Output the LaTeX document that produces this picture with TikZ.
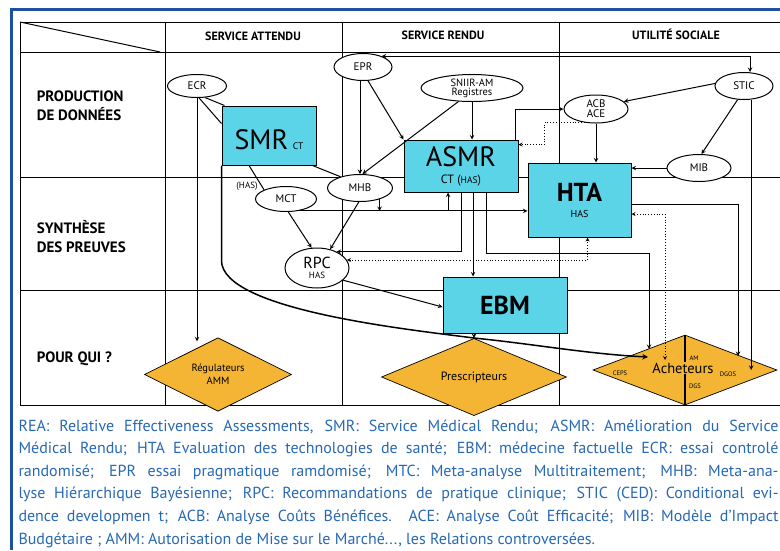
\documentclass[tikz,border=0pt]{standalone}
\usepackage{fontspec}
\setmainfont{PT Sans}
\usepackage{tikz}
\usetikzlibrary{shapes.geometric}
\definecolor{cyanbox}{RGB}{92,212,232}
\definecolor{orangebox}{RGB}{244,180,52}
\definecolor{frameblue}{RGB}{30,80,160}
\definecolor{legendblue}{RGB}{40,105,180}

\begin{document}
\begin{tikzpicture}[x=1pt, y=-1pt, >=stealth, line width=1pt,
  oval/.style={draw, ellipse, fill=white, inner sep=0pt, font=\fontsize{11}{11}\selectfont},
  box/.style={draw, fill=cyanbox, inner sep=0pt},
  losange/.style={draw, diamond, fill=orangebox, inner sep=0pt, line width=0.7pt},
  head/.style={font=\bfseries\fontsize{12}{12}\selectfont},
  rowlab/.style={anchor=west, align=left, font=\bfseries\fontsize{15}{19}\selectfont},
  tiny/.style={font=\fontsize{6.5}{6.5}\selectfont, inner sep=0pt}]

% fond et cadre
\useasboundingbox (0,0) rectangle (780,550);
\fill [white] (0,0) rectangle (780,550);
\draw [frameblue, line width=3pt] (11.5,550) -- (11.5,9.5) -- (780,9.5);

% tableau
\draw (780,22) -- (20,22) -- (20,405) -- (780,405);
\draw (20,52) -- (780,52);
\draw (20,177) -- (780,177);
\draw (20,290) -- (780,290);
\foreach \x in {165,342,559}
  \draw (\x,22) -- (\x,405);
\draw (20,22) -- (160,52);

\node [head] (sa) at (253,36) {SERVICE ATTENDU};
\node [head] (sr) at (443,35) {SERVICE RENDU};
\node [head] (us) at (676,34) {UTILITÉ SOCIALE};
\node [rowlab] (prod) at (33,106) {PRODUCTION\\DE DONNÉES};
\node [rowlab] (synth) at (33,237) {SYNTHÈSE\\DES PREUVES};
\node [rowlab] (pour) at (33,359) {POUR QUI ?};

% production de donnees
\node [oval, minimum width=59, minimum height=23] (ecr) at (197,86) {ECR};
\node [oval, minimum width=58, minimum height=27] (epr) at (363,67) {EPR};
\node [oval, minimum width=102, minimum height=27, align=center,
  font=\fontsize{10.5}{9}\selectfont] (snir) at (472,88) {SNIIR-AM\\Registres};
\node [oval, minimum width=64, minimum height=28, align=center,
  font=\fontsize{11}{10}\selectfont] (acb) at (596,109) {ACB\\ACE};
\node [oval, minimum width=58, minimum height=27] (stic) at (744,86) {STIC};
\node [box, minimum width=94, minimum height=59, text height=28pt, font=\fontsize{28}{28}\selectfont]
  (smr) at (269,135.5) {SMR\,{\fontsize{9.5}{9}\selectfont CT}};
\node [box, minimum width=114, minimum height=52, align=center, font=\fontsize{28}{17}\selectfont]
  (asmr) at (461,166) {ASMR\\{\fontsize{12}{17}\selectfont CT ({\fontsize{9.5}{17}\selectfont HAS})}};

% synthese des preuves
\node [box, minimum width=103, minimum height=74, align=center, font=\bfseries\fontsize{26}{16}\selectfont]
  (hta) at (579.5,200) {HTA\\{\mdseries\fontsize{10}{16}\selectfont HAS}};
\node [oval, minimum width=64, minimum height=27] (mib) at (699,168) {MIB};
\node [oval, minimum width=65, minimum height=27] (mhb) at (360,188) {MHB};
\node [oval, minimum width=61, minimum height=25] (mct) at (286,199) {MCT};
\node [font=\fontsize{9}{9}\selectfont, inner sep=0pt] (has) at (247,186) {(HAS)};
\node [oval, minimum width=64, minimum height=40, align=center, font=\fontsize{16}{10}\selectfont]
  (rpc) at (317,268) {RPC\\{\fontsize{9}{10}\selectfont HAS}};
\node [box, minimum width=124, minimum height=56, font=\bfseries\fontsize{26}{26}\selectfont]
  (ebm) at (505,305) {EBM};

% pour qui
\node [losange, minimum width=147, minimum height=55, align=center, font=\fontsize{10.5}{13}\selectfont]
  (reg) at (218,374.5) {Régulateurs\\AMM};
\node [losange, minimum width=185, minimum height=58, font=\fontsize{12}{12}\selectfont]
  (pres) at (474,377) {Prescripteurs};
\node [losange, minimum width=184, minimum height=70] (ach) at (685,370) {};
\draw [line width=2.5pt] (ach.north) -- (ach.south);
\node [font=\fontsize{14.5}{14}\selectfont, fill=orangebox, inner sep=0.5pt] (achtxt) at (683,368) {Acheteurs};
\node [tiny] (ceps) at (620,373) {CEPS};
\node [tiny] (am) at (694,358) {AM};
\node [tiny] (dgs) at (695,386) {DGS};
\node [tiny] (dgos) at (728,374) {DGOS};
\coordinate (achw) at ([xshift=-37pt,yshift=13pt]ach.center);
\coordinate (achn) at ([xshift=-36pt,yshift=21pt]ach.center);
\coordinate (ache) at ([xshift=53pt,yshift=14pt]ach.center);
\coordinate (achd) at ([xshift=-20pt,yshift=10pt]ach.center);

% liens
\draw [<->] (epr.30) -| ([xshift=6pt]stic.north);
\draw [->] (epr.south -| mhb.north) -- (mhb.north);
\draw [->] (epr.-70) -- (asmr.north west);
\draw [->] (snir.-135) -- (mhb.80);
\draw [->] (snir.south) -- (snir.south |- asmr.north);
\draw [->] (ecr.south) -- ([yshift=-4pt]ecr.south |- reg.north);
\draw (ecr.-80) -- ([yshift=-18pt]smr.north west);
\draw (ecr.-55) -- ([xshift=3pt]smr.north west);
\draw ([xshift=-20pt]smr.south) -- (mct.north west);
\draw ([xshift=-4pt]smr.south east) -- (mhb.150);
\draw [->, line width=1.5pt] (smr.south west) -- ++(0,95)
  .. controls +(0,50) and +(-60,-8) .. (pres.north)
  .. controls +(60,6) and +(-60,-3) .. (achw);
\draw [->] (mct.-80) -- (rpc.105);
\draw [->] (mhb.-95) -- (rpc.55);
\draw [->] (mct.-45) -- (mct.-45 -| hta.west);
\draw [->] ([xshift=-13pt]asmr.south |- mct.-45) -- ([xshift=-13pt]asmr.south);
\draw [->] (mhb.-30) -- (mhb.-30 |- mct.-45);
\draw [->] ([xshift=12pt]asmr.south) -- ([xshift=12pt]asmr.south |- ebm.north);
\draw [->] (asmr.south) |- (rpc.40);
\draw [->] ([xshift=25pt]asmr.south) -- ++(0,61) -| (achn);
\draw [<->, dotted, line width=0.8pt] (rpc.15) -| ([xshift=8pt]hta.south);
\draw [->, dotted, line width=0.8pt] (acb.-130) -- ++(-40,0) |- ([yshift=-5pt]asmr.north east);
\draw [->] ([xshift=-3pt]asmr.north east) |- (acb.west);
\draw [->] (acb.south) -- (acb.south |- hta.north);
\draw [->] (stic.175) -- (acb.15);
\draw [->] (stic.-115) -- (mib.80);
\draw [->] (mib.west) -- (mib.west -| hta.east);
\draw [->] (stic.-62) -- (stic.-62 |- ach.east);
\draw [->] ([yshift=-4pt]hta.east) -| (ache);
\draw [<->, dotted, line width=0.8pt] ([yshift=-14pt]hta.east) -| (achd);
\draw [->] (rpc.-25) -- ([yshift=-2pt]ebm.west);
\draw [->] (ebm.south -| pres.north) -- (pres.north);

% legende
\node [anchor=north west, inner sep=0pt, text width=760pt, align=justify, text=legendblue,
  font=\fontsize{16}{22.6}\selectfont] (leg) at (18,419)
  {REA: Relative Effectiveness Assessments, SMR: Service Médical Rendu; ASMR: Amélioration du Service\linebreak
  Médical Rendu; HTA Evaluation des technologies de santé; EBM: médecine factuelle ECR: essai controlé\linebreak
  randomisé; EPR essai pragmatique ramdomisé; MTC: Meta-analyse Multitraitement; MHB: Meta-ana-\linebreak
  lyse Hiérarchique Bayésienne; RPC: Recommandations de pratique clinique; STIC (CED): Conditional evi-\linebreak
  dence developmen t; ACB: Analyse Coûts Bénéfices. ACE: Analyse Coût Efficacité; MIB: Modèle d’Impact\linebreak
  Budgétaire ; AMM: Autorisation de Mise sur le Marché..., les Relations controversées.};
\end{tikzpicture}
\end{document}
